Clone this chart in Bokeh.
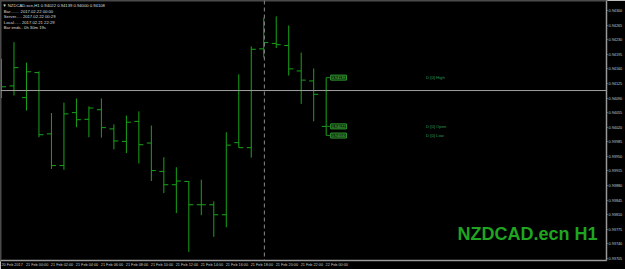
from bokeh.plotting import figure
from bokeh.models import (LinearAxis, FixedTicker, Range1d, Span, Label,
                          NumeralTickFormatter, ColumnDataSource)
from bokeh.embed import file_html
from bokeh.resources import INLINE

# ---------------- data ----------------
symbol = "NZDCAD.ecn,H1"
watermark = "NZDCAD.ecn H1"
bar_times = ["20 Feb 22:00", "20 Feb 23:00"] + ["21 Feb %02d:00" % h for h in range(24)] + ["22 Feb 00:00"]
opens = [0.94132, 0.94119, 0.94091, 0.94151, 0.94004, 0.93928, 0.94055, 0.94039, 0.94062,
         0.94016, 0.93986, 0.94034, 0.93982, 0.93914, 0.93882, 0.93890, 0.93834, 0.93834,
         0.93810, 0.93983, 0.93971, 0.94208, 0.94221, 0.94216, 0.94155, 0.94131, 0.94022]
highs = [0.94184, 0.94224, 0.94175, 0.94154, 0.94054, 0.94079, 0.94089, 0.94070, 0.94089,
         0.94027, 0.94048, 0.94058, 0.94024, 0.93948, 0.93924, 0.93891, 0.93894, 0.93842,
         0.94008, 0.94147, 0.94214, 0.94283, 0.94286, 0.94264, 0.94199, 0.94161, 0.94139]
lows = [0.94090, 0.94096, 0.94060, 0.93996, 0.93920, 0.93918, 0.94020, 0.93996, 0.93995,
        0.93967, 0.93958, 0.93933, 0.93891, 0.93862, 0.93814, 0.93721, 0.93809, 0.93757,
        0.93780, 0.93971, 0.93947, 0.94187, 0.94210, 0.94144, 0.94076, 0.94034, 0.94000]
closes = [0.94117, 0.94163, 0.94153, 0.94002, 0.93928, 0.94052, 0.94038, 0.94066, 0.94019,
          0.93987, 0.94032, 0.93978, 0.93916, 0.93882, 0.93891, 0.93834, 0.93834, 0.93810,
          0.93977, 0.93971, 0.94207, 0.94223, 0.94218, 0.94160, 0.94133, 0.94099, 0.94108]

price_ticks = [round(0.94300 - j * 0.00035, 5) for j in range(18)]
time_tick_bars = [0, 2, 4, 6, 8, 10, 12, 14, 16, 18, 20, 22, 24, 26]
time_tick_labels = ["20 Feb 2017", "21 Feb 00:00", "21 Feb 02:00", "21 Feb 04:00", "21 Feb 06:00",
                    "21 Feb 08:00", "21 Feb 10:00", "21 Feb 12:00", "21 Feb 14:00", "21 Feb 16:00",
                    "21 Feb 18:00", "21 Feb 20:00", "21 Feb 22:00", "22 Feb 00:00"]
vline_time = "21 Feb 19:00"
info_lines = ["Bar........  2017.02.22 00:00",
              "Server.....  2017.02.22 00:29",
              "Local......  2017.02.21 22:29",
              "Bar ends..  0h 30m 19s"]
level_names = ["High", "Open", "Low"]

# ---------------- figure ----------------
GREEN = "#18a418"
FONT = "Liberation Sans"
n = len(opens)
idx = list(range(n))
pix_per_bar = 12.55
k = 0.00035 / 14.59  # price per pixel

x0 = -1.0 / pix_per_bar
x1 = x0 + 609.0 / pix_per_bar
y1 = price_ticks[0] + 10 * k
y0 = price_ticks[0] - 250 * k

p = figure(width=625, height=269, output_backend="svg", toolbar_location=None,
           x_range=Range1d(x0, x1), y_range=Range1d(y0, y1),
           x_axis_location=None, y_axis_location=None,
           background_fill_color="black", border_fill_color="black",
           min_border_left=0, min_border_top=0, min_border_right=16, min_border_bottom=9,
           outline_line_color="#4a4a4a", outline_line_width=2)
p.xgrid.visible = False
p.ygrid.visible = False

yax = LinearAxis(ticker=FixedTicker(ticks=price_ticks),
                 formatter=NumeralTickFormatter(format="0.00000"))
yax.axis_line_color = "#9a9a9a"
yax.major_tick_line_color = "#9a9a9a"
yax.major_tick_out = 1
yax.major_tick_in = 0
yax.minor_tick_out = 0
yax.minor_tick_in = 0
yax.major_label_standoff = 1
yax.major_label_text_font_size = "3.8px"
yax.major_label_text_font = FONT
yax.major_label_text_color = "#c8c8c8"
p.add_layout(yax, "right")

off = 0.85
xtick_pos = [b + off for b in time_tick_bars]
xax = LinearAxis(ticker=FixedTicker(ticks=xtick_pos),
                 major_label_overrides={t: s for t, s in zip(xtick_pos, time_tick_labels)})
xax.axis_line_color = "#9a9a9a"
xax.major_tick_out = 0
xax.major_tick_in = 0
xax.minor_tick_out = 0
xax.minor_tick_in = 0
xax.major_label_standoff = 2
xax.major_label_text_font_size = "3.8px"
xax.major_label_text_font = FONT
xax.major_label_text_color = "#c8c8c8"
p.add_layout(xax, "below")

# bars
src = ColumnDataSource(dict(x=idx, o=opens, h=highs, l=lows, c=closes,
                            xl=[i - 0.36 for i in idx], xr=[i + 0.36 for i in idx]))
p.segment(x0="x", y0="l", x1="x", y1="h", source=src, line_color=GREEN, line_width=1)
p.segment(x0="xl", y0="o", x1="x", y1="o", source=src, line_color=GREEN, line_width=1)
p.segment(x0="x", y0="c", x1="xr", y1="c", source=src, line_color=GREEN, line_width=1)

# bid line
p.add_layout(Span(location=closes[-1], dimension="width", line_color="#a0a0a0", line_width=1))
# vertical dashed line
vx = bar_times.index(vline_time)
p.add_layout(Span(location=vx + 0.05, dimension="height", line_color="#8a8a8a",
                  line_width=1, line_dash="4 3"))

# D[0] levels
last = n - 1
levels = [highs[last], opens[last], lows[last]]
p.segment(x0=[last] * 3, y0=levels, x1=[last + 0.35] * 3, y1=levels, line_color="#1f7f1f", line_width=1)
for name, lv in zip(level_names, levels):
    p.add_layout(Label(x=last + 0.36, y=lv, text="%.5f" % lv, text_font=FONT, text_font_size="3.8px",
                       text_color="#5fc05f", text_align="left", text_baseline="middle",
                       border_line_color="#2f9a2f", border_line_width=1,
                       background_fill_color="#0b2a0b", padding=1))
    p.add_layout(Label(x=34.0, y=lv, text="D [0] " + name, text_font=FONT, text_font_size="4.2px",
                       text_color="#2e9a5a", text_align="left", text_baseline="middle"))

# highlighted bid on price axis
p.add_layout(Label(x=x1, y=closes[-1], x_offset=2, text="%.5f" % closes[-1], text_font=FONT,
                   text_font_size="3.8px", text_color="#101010", text_align="left",
                   text_baseline="middle", background_fill_color="#b4b4b4", padding=1))
# highlighted time on time axis
p.add_layout(Label(x=vx + 0.05, y=y0, y_offset=-1.5, text=vline_time, text_font=FONT,
                   text_font_size="3.8px", text_color="#101010", text_align="center",
                   text_baseline="top", background_fill_color="#8e98a6", padding=2))

# info text top-left
p.add_layout(Label(x=2, y=260 - 4.5, x_units="screen", y_units="screen",
                   text="\u25bc " + symbol + "  %.5f %.5f %.5f %.5f" % (opens[last], highs[last], lows[last], closes[last]),
                   text_font=FONT, text_font_size="4.2px", text_color="#dcdcdc",
                   text_align="left", text_baseline="middle"))
for j, line in enumerate(info_lines):
    p.add_layout(Label(x=3.3, y=260 - (10.7 + 5.4 * j), x_units="screen", y_units="screen",
                       text=line, text_font=FONT, text_font_size="4.2px", text_color="#dcdcdc",
                       text_align="left", text_baseline="middle"))

# watermark
p.add_layout(Label(x=597, y=260 - 233.5, x_units="screen", y_units="screen", text=watermark,
                   text_font=FONT, text_font_style="bold", text_font_size="18px",
                   text_color="#1fa51f", text_align="right", text_baseline="middle"))

open("out.html", "w").write(file_html(p, INLINE))
